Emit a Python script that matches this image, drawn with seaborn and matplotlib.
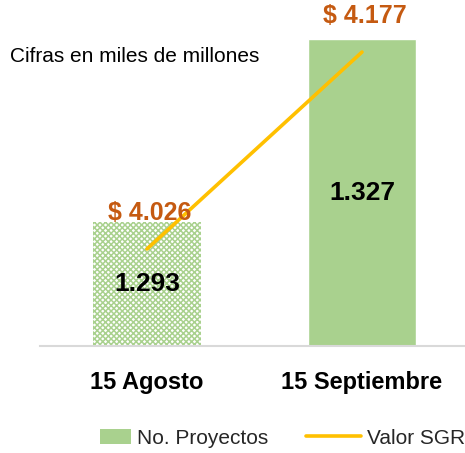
import matplotlib
matplotlib.use("Agg")
import matplotlib.pyplot as plt
import matplotlib.patches as mpatches
from matplotlib.lines import Line2D
from matplotlib.legend_handler import HandlerPatch
import seaborn as sns
import pandas as pd

# ---- data ----
categorias = ["15 Agosto", "15 Septiembre"]
no_proyectos = [1293, 1327]
valor_sgr = [4026, 4177]

# ---- styles ----
GREEN = "#A9D18E"
GOLD = "#FFC000"
ORANGE = "#C55A11"

sns.set_theme(style="white")
plt.rcParams["font.family"] = ["Liberation Sans", "DejaVu Sans"]
plt.rcParams["hatch.linewidth"] = 1.1
plt.rcParams["hatch.color"] = GREEN


def fmt(v):
    return f"{v:,}".replace(",", ".")


fig = plt.figure(figsize=(4.65, 4.53), dpi=100)
ax = fig.add_axes([39.5 / 465, 107 / 453, 430 / 465, 346 / 453])

df = pd.DataFrame({"cat": categorias, "n": no_proyectos, "v": valor_sgr})
sns.barplot(data=df, x="cat", y="n", ax=ax, color=GREEN, width=0.502,
            saturation=1)
ax.set_ylim(1270, 1334.3)
ax.set_xlim(-0.5, 1.5)

# first bar hatched (pattern fill)
p0 = ax.patches[0]
p0.set_facecolor("white")
p0.set_edgecolor(GREEN)
p0.set_hatch("xxxxxx")
p0.set_linewidth(0)

ymin = ax.get_ylim()[0]
for i, v in enumerate(no_proyectos):
    ax.text(i, (ymin + v) / 2, fmt(v), ha="center", va="center",
            fontsize=19, fontweight="bold", color="black")

ax.set_xlabel("")
ax.set_ylabel("")
ax.set_yticks([])
ax.tick_params(axis="x", length=0, pad=18, labelsize=17)
for lbl in ax.get_xticklabels():
    lbl.set_fontweight("bold")
    lbl.set_color("black")
for s in ["top", "left", "right"]:
    ax.spines[s].set_visible(False)
ax.spines["bottom"].set_color("#D9D9D9")
ax.spines["bottom"].set_linewidth(1.5)

# secondary axis line
ax2 = ax.twinx()
sns.lineplot(x=[0, 1], y=valor_sgr, ax=ax2, color=GOLD, linewidth=2.6)
ax2.set_ylim(3951.6, 4216.9)
ax2.set_yticks([])
for s in ["top", "left", "right", "bottom"]:
    ax2.spines[s].set_visible(False)
for i, v in enumerate(valor_sgr):
    ax2.annotate(f"$ {fmt(v)}", (i, v), xytext=(3, 36),
                 textcoords="offset pixels", ha="center", va="center",
                 fontsize=18, fontweight="bold", color=ORANGE,
                 annotation_clip=False)

fig.text(10 / 465, 1 - 56 / 453, "Cifras en miles de millones",
         ha="left", va="center", fontsize=15, color="black")


class NarrowPatch(HandlerPatch):
    def create_artists(self, legend, orig_handle, xdescent, ydescent,
                       width, height, fontsize, trans):
        w = width * 0.57
        r = mpatches.Rectangle((-xdescent + width - w, -ydescent), w, height,
                               facecolor=GREEN, edgecolor="none",
                               transform=trans)
        return [r]


handles = [mpatches.Patch(color=GREEN, label="No. Proyectos"),
           Line2D([], [], color=GOLD, lw=2.6, label="Valor SGR")]
fig.legend(handles=handles, loc="center",
           bbox_to_anchor=(0.582, 1 - 438 / 453), ncol=2, frameon=False,
           fontsize=15, handlelength=2.6, handletextpad=0.29,
           columnspacing=1.85, handler_map={mpatches.Patch: NarrowPatch()})

fig.savefig("out.png", dpi=100)
